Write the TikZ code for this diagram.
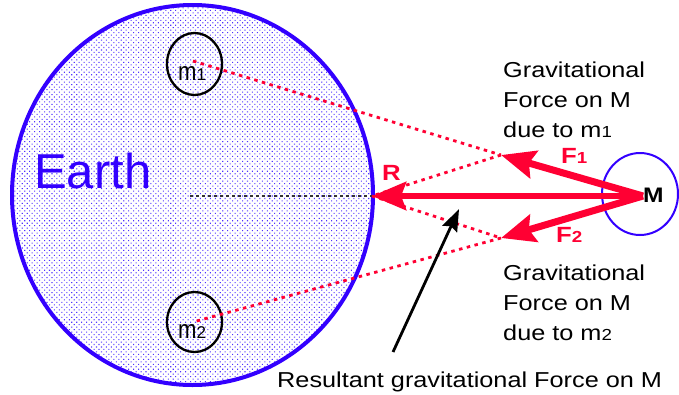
\documentclass[tikz,border=0pt]{standalone}
\usepackage{fontspec}
\setmainfont[FakeStretch=1.17]{Liberation Sans}
\newfontfamily\plainsans{Liberation Sans}
\newfontfamily\narrowsans[FakeStretch=0.85]{Liberation Sans}
\usetikzlibrary{arrows.meta,patterns.meta,shapes.geometric}
\definecolor{eblue}{RGB}{51,0,255}
\definecolor{fred}{RGB}{255,0,51}
\definecolor{dotblue}{RGB}{80,50,255}
\begin{document}
\begin{tikzpicture}[x=1pt,y=-1pt,
  body/.style={ellipse,inner sep=0pt},
  forcearrow/.style={fred,line width=7pt,-{Stealth[length=34pt,width=28pt,inset=5pt]}},
  guide/.style={fred,line width=2.8pt,dash pattern=on 3.5pt off 4.5pt},
  infotext/.style={anchor=north west,inner sep=0pt,align=left,font=\fontsize{21.6}{30}\selectfont},
  masslabel/.style={anchor=base west,inner sep=0pt},
  forcelabel/.style={fred,anchor=base west,inner sep=0pt,font=\bfseries\fontsize{22}{22}\selectfont}
]
\useasboundingbox (0,0) rectangle (679,394);
% Earth
\node[body,draw=eblue,line width=4pt,minimum width=361pt,minimum height=380pt,
      pattern={Dots[distance=3.5pt,radius=0.75pt,angle=45]},pattern color=dotblue] (earth) at (192.5,195) {};
\node[anchor=base west,inner sep=0pt,text=eblue,font=\plainsans\fontsize{49}{49}\selectfont] (earthlab) at (34,188) {Earth};
% small masses
\node[body,draw=black,line width=2.3pt,minimum width=55pt,minimum height=62pt] (m1c) at (194.5,64) {};
\node[body,draw=black,line width=2.3pt,minimum width=55pt,minimum height=60pt] (m2c) at (194.5,322) {};
\node[masslabel] (m1lab) at (178,80) {{\narrowsans\fontsize{26}{26}\selectfont m}{\plainsans\fontsize{17}{17}\selectfont 1}};
\node[masslabel] (m2lab) at (178,338) {{\narrowsans\fontsize{26}{26}\selectfont m}{\plainsans\fontsize{17}{17}\selectfont 2}};
% key points
\coordinate (m1pt) at (193,61);
\coordinate (m2pt) at (193,322);
\coordinate (Rtip) at (372,196);
\coordinate (F1tip) at (501,155);
\coordinate (F2tip) at (501,238);
\coordinate (O) at (643,196);
\coordinate (ctr) at (190,196);
% centre line
\draw[black!80,line width=1.3pt,dash pattern=on 3pt off 3pt] (ctr) -- (Rtip);
% construction lines
\draw[guide] (m1pt) -- (F1tip);
\draw[guide] (F1tip) -- (Rtip);
\draw[guide] (Rtip) -- (F2tip);
\draw[guide] (F2tip) -- (m2pt);
% M
\node[body,draw=eblue,line width=2pt,fill=white,minimum width=76pt,minimum height=82pt] (Mc) at (640,194) {};
% forces
\draw[forcearrow] (O) -- (F1tip);
\draw[forcearrow] (O) -- (F2tip);
\draw[forcearrow,line width=6.5pt] (O) -- (Rtip);
\node[anchor=base west,inner sep=0pt,font=\bfseries\fontsize{21}{21}\selectfont] (Mlab) at (643,202) {M};
\node[forcelabel] (Rlab) at (382,180) {R};
\node[forcelabel] (F1lab) at (561,163) {F{\fontsize{16}{16}\selectfont 1}};
\node[forcelabel] (F2lab) at (556,242) {F{\fontsize{16}{16}\selectfont 2}};
% texts
\node[infotext] (t1) at (503,62) {Gravitational\\Force on M\\due to m{\fontsize{16}{16}\selectfont 1}};
\node[infotext] (t2) at (503,265) {Gravitational\\Force on M\\due to m{\fontsize{16}{16}\selectfont 2}};
\node[anchor=base west,inner sep=0pt,font=\fontsize{21.6}{30}\selectfont] (res) at (277,387) {Resultant gravitational Force on M};
\coordinate (resstart) at (393,352);
\coordinate (restip) at (459,209);
\draw[black,line width=2.8pt,-{Stealth[length=22pt,width=16pt,inset=3pt]}] (resstart) -- (restip);
\end{tikzpicture}
\end{document}
